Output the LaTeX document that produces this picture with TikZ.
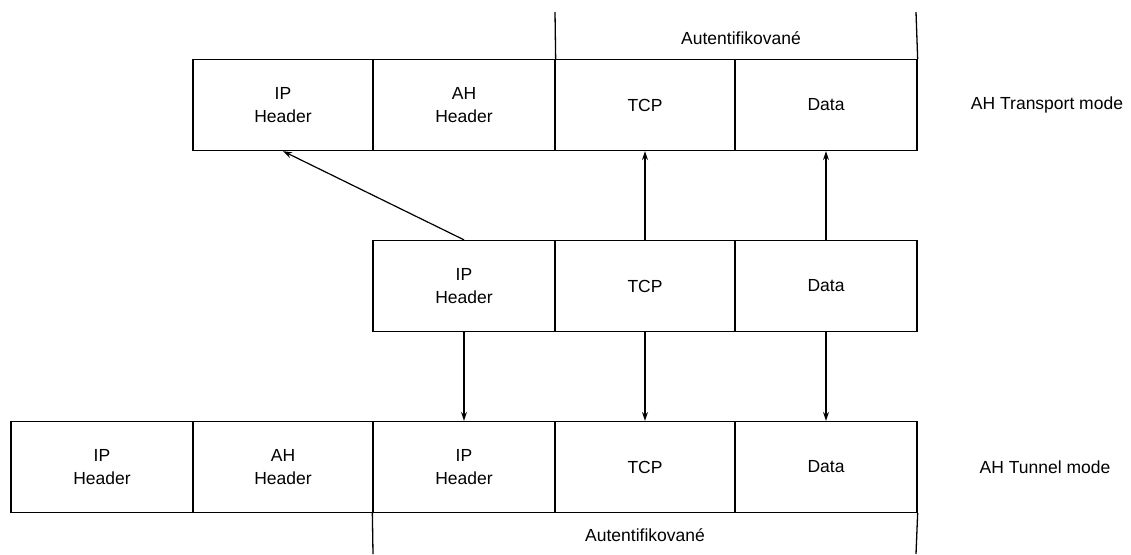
\documentclass[tikz,border=0pt]{standalone}
\usepackage{fontspec}
\setmainfont{Liberation Sans}
\usetikzlibrary{arrows.meta}
\begin{document}
\begin{tikzpicture}[x=1pt,y=-1pt,
  cell/.style={draw, line width=1.3pt, minimum height=91pt, inner sep=0pt,
    align=center, font=\fontsize{17.5}{23}\selectfont},
  narrow/.style={cell, minimum width=180pt},
  wide/.style={cell, minimum width=182pt},
  lbl/.style={font=\fontsize{17.5}{21}\selectfont},
  link/.style={line width=1.2pt, -{Stealth[length=9pt,width=6pt,open]}},
  brace/.style={line width=1.3pt}]
\useasboundingbox (0,0) rectangle (1131,554);

% AH transport mode packet
\node[narrow] (tip)  at (283,105) {IP\\Header};
\node[wide]   (tah)  at (464,105) {AH\\Header};
\node[narrow] (ttcp) at (645,105) {TCP};
\node[wide]   (tdat) at (826,105) {Data};
\node[lbl] (tmode) at (1047,105) {AH Transport mode};

% authenticated span of the transport packet
\coordinate (ta1) at (555,12);
\coordinate (ta2) at (916,12);
\draw[brace] (ta1) -- (tah.north east);
\draw[brace] (ta2) -- (tdat.north east);
\node[lbl] (tauth) at (741,38) {Autentifikované};

% original packet
\node[wide]   (oip)  at (464,286) {IP\\Header};
\node[narrow] (otcp) at (645,286) {TCP};
\node[wide]   (odat) at (826,286) {Data};

% AH tunnel mode packet
\node[wide]   (nip)  at (102,467) {IP\\Header};
\node[narrow] (nah)  at (283,467) {AH\\Header};
\node[wide]   (nip2) at (464,467) {IP\\Header};
\node[narrow] (ntcp) at (645,467) {TCP};
\node[wide]   (ndat) at (826,467) {Data};
\node[lbl] (nmode) at (1045,467) {AH Tunnel mode};

% authenticated span of the tunnel packet
\coordinate (na1) at (373,554);
\coordinate (na2) at (916,554);
\draw[brace] (nip2.south west) -- (na1);
\draw[brace] (ndat.south east) -- (na2);
\node[lbl] (nauth) at (645,535) {Autentifikované};

% mapping into transport mode
\draw[link] (oip.north) -- (tip.south);
\draw[link] (otcp.north) -- (ttcp.south);
\draw[link] (odat.north) -- (tdat.south);

% mapping into tunnel mode
\draw[link] (oip.south) -- (nip2.north);
\draw[link] (otcp.south) -- (ntcp.north);
\draw[link] (odat.south) -- (ndat.north);
\end{tikzpicture}
\end{document}
